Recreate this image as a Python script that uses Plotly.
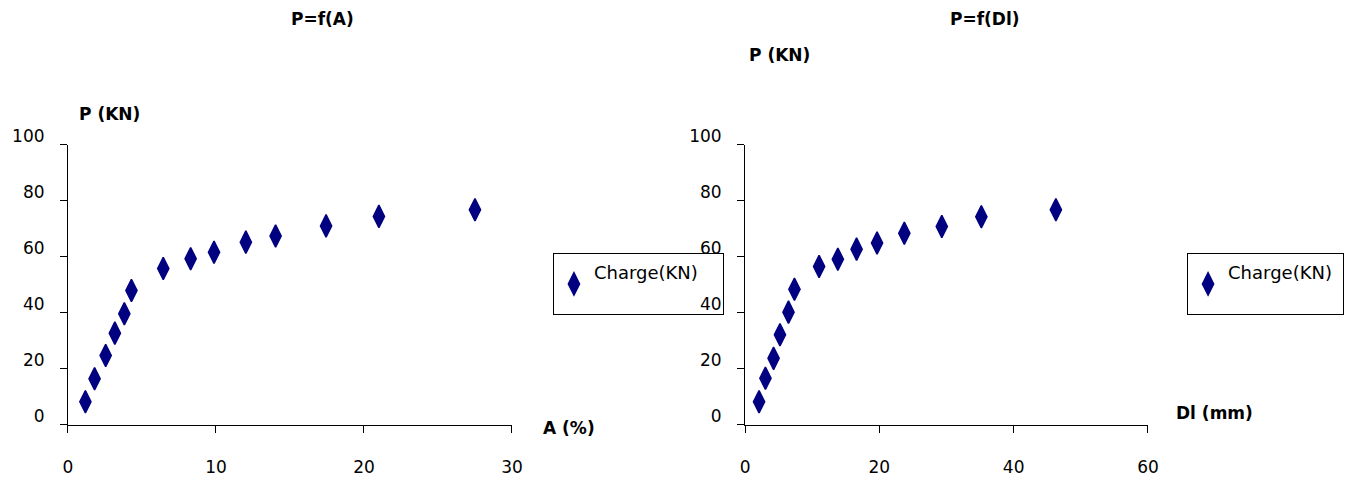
import plotly.graph_objects as go

# Data
A_pct = [1.18, 1.80, 2.55, 3.17, 3.81, 4.29, 6.44, 8.29, 9.87, 12.02, 14.03, 17.44, 21.01, 27.50]
P_left = [8.3, 16.5, 24.8, 32.8, 39.7, 48.0, 55.9, 59.4, 61.7, 65.3, 67.5, 71.1, 74.5, 76.9]
Dl_mm = [2.09, 3.04, 4.25, 5.20, 6.47, 7.36, 11.03, 13.82, 16.61, 19.66, 23.72, 29.30, 35.19, 46.29]
P_right = [8.3, 16.7, 23.8, 32.2, 40.3, 48.5, 56.6, 59.2, 62.8, 65.0, 68.5, 70.9, 74.4, 76.9]
x_ticks_left = [0, 10, 20, 30]
x_ticks_right = [0, 20, 40, 60]
y_ticks = [0, 20, 40, 60, 80, 100]
series_name = "Charge(KN)"

FONT = "DejaVu Sans, Liberation Sans, Arial, sans-serif"
NAVY = "#000080"

marker = dict(symbol="diamond-tall", size=16, color=NAVY, line=dict(color=NAVY, width=1.5))

fig = go.Figure()
fig.add_trace(go.Scatter(x=A_pct, y=P_left, mode="markers", name=series_name + "<br> ",
                         marker=marker, xaxis="x", yaxis="y", legend="legend", cliponaxis=False))
fig.add_trace(go.Scatter(x=Dl_mm, y=P_right, mode="markers", name=series_name + "<br> ",
                         marker=marker, xaxis="x2", yaxis="y2", legend="legend2", cliponaxis=False))

axis_common = dict(showline=True, linecolor="#000", linewidth=1, ticks="outside",
                   ticklen=7, tickcolor="#000", showgrid=False, zeroline=False,
                   automargin=False,
                   tickfont=dict(family=FONT, size=17, color="#000"))

ydom = [0.1183, 0.6992]
legend_common = dict(yanchor="top", xanchor="left", y=0.475, orientation="h",
                     bordercolor="#000", borderwidth=1, bgcolor="rgba(0,0,0,0)",
                     font=dict(family=FONT, size=18, color="#000"), itemwidth=30)
fig.update_layout(
    width=1348, height=482,
    margin=dict(l=0, r=0, t=0, b=0, autoexpand=False),
    paper_bgcolor="white", plot_bgcolor="white",
    font=dict(family=FONT, color="#000"),
    xaxis=dict(domain=[0.0504, 0.3798], range=[0, 30], tickvals=x_ticks_left,
               ticklabelstandoff=20, anchor="y", **axis_common),
    yaxis=dict(domain=ydom, range=[0, 100], tickvals=y_ticks,
               ticklabelstandoff=12, ticklabelshift=-9, anchor="x", **axis_common),
    xaxis2=dict(domain=[0.5527, 0.8516], range=[0, 60], tickvals=x_ticks_right,
                ticklabelstandoff=20, anchor="y2", **axis_common),
    yaxis2=dict(domain=ydom, range=[0, 100], tickvals=y_ticks,
                ticklabelstandoff=12, ticklabelshift=-9, anchor="x2", **axis_common),
    legend=dict(x=0.4102, entrywidth=124, **legend_common),
    legend2=dict(x=0.8806, entrywidth=110, **legend_common),
    showlegend=True,
)

bold = dict(family=FONT, size=17, color="#000")
annots = [
    ("<b>P=f(A)</b>", 0.239, 0.961),
    ("<b>P=f(Dl)</b>", 0.731, 0.961),
    ("<b>P (KN)</b>", 0.0809, 0.7635),
    ("<b>P (KN)</b>", 0.578, 0.886),
    ("<b>A (%)</b>", 0.422, 0.112),
    ("<b>Dl (mm)</b>", 0.9006, 0.143),
]
for text, x, y in annots:
    fig.add_annotation(text=text, x=x, y=y, xref="paper", yref="paper",
                       xanchor="center", yanchor="middle", showarrow=False, font=bold)

fig.write_html("out.html")
